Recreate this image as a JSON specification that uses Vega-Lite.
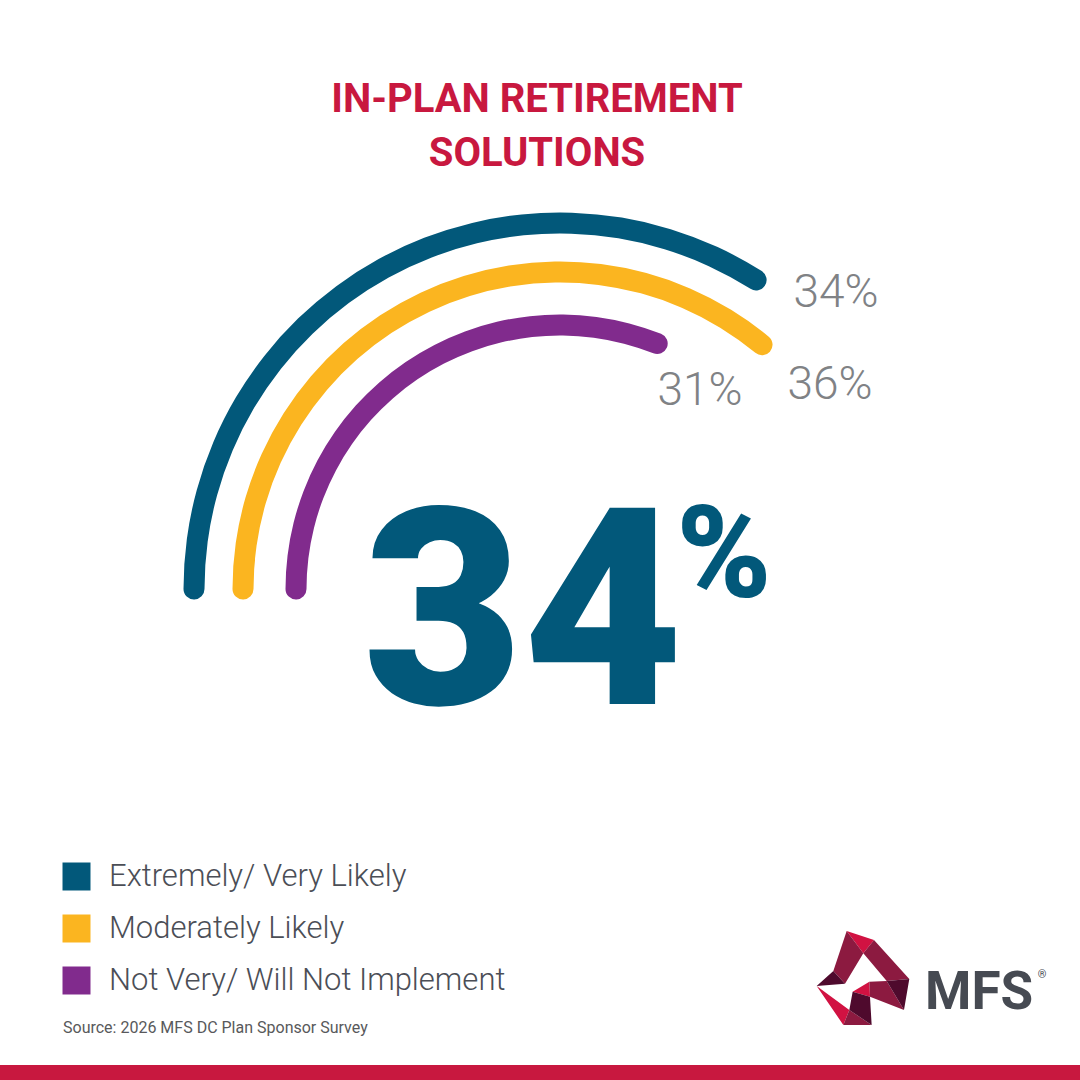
{
  "$schema": "https://vega.github.io/schema/vega-lite/v6.json",
  "width": 1080,
  "height": 1080,
  "padding": 0,
  "autosize": {"type": "none"},
  "background": "white",
  "config": {"view": {"stroke": null}, "font": "Roboto"},
  "datasets": {
    "survey": [
      {"category": "Extremely/ Very Likely", "value": 0.34},
      {"category": "Moderately Likely", "value": 0.36},
      {"category": "Not Very/ Will Not Implement", "value": 0.31}
    ]
  },
  "data": {"name": "survey"},
  "layer": [
    {
      "encoding": {
        "theta": {"field": "value", "type": "quantitative", "stack": null, "scale": {"domain": [0, 1], "range": [-1.5708, 4.7124]}},
        "theta2": {"datum": 0},
        "color": {
          "field": "category", "type": "nominal",
          "scale": {"domain": ["Extremely/ Very Likely", "Moderately Likely", "Not Very/ Will Not Implement"], "range": ["#02587A", "#FBB520", "#812B8D"]},
          "legend": {
            "title": null, "orient": "none", "legendX": 61, "legendY": 861,
            "symbolType": "square", "symbolSize": 784, "symbolStrokeWidth": 0, "symbolOpacity": 1,
            "labelFont": "Roboto", "labelFontSize": 31, "labelFontWeight": 300, "labelColor": "#4B4E56",
            "labelOffset": 17, "rowPadding": 20, "padding": 0, "labelLimit": 700
          }
        }
      },
      "layer": [
        {
          "transform": [{"filter": "datum.category === 'Extremely/ Very Likely'"}],
          "mark": {"type": "arc", "radius": 376.5, "radius2": 355.5, "cornerRadius": 10.5, "thetaOffset": 0.0287, "theta2Offset": -0.0287, "xOffset": 20, "yOffset": 49}
        },
        {
          "transform": [{"filter": "datum.category === 'Moderately Likely'"}],
          "mark": {"type": "arc", "radius": 327.5, "radius2": 306.5, "cornerRadius": 10.5, "thetaOffset": 0.0331, "theta2Offset": -0.0331, "xOffset": 20, "yOffset": 49}
        },
        {
          "transform": [{"filter": "datum.category === 'Not Very/ Will Not Implement'"}],
          "mark": {"type": "arc", "radius": 274.5, "radius2": 253.5, "cornerRadius": 10.5, "thetaOffset": 0.0398, "theta2Offset": -0.0398, "xOffset": 20, "yOffset": 49}
        }
      ]
    },
    {
      "transform": [{"filter": "datum.category === 'Extremely/ Very Likely'"}],
      "mark": {"type": "text", "dx": 296, "dy": -233, "align": "center", "baseline": "alphabetic", "font": "Roboto", "fontWeight": 300, "fontSize": 46, "color": "#808285"},
      "encoding": {"text": {"field": "value", "type": "quantitative", "format": ".0%"}}
    },
    {
      "transform": [{"filter": "datum.category === 'Moderately Likely'"}],
      "mark": {"type": "text", "dx": 290, "dy": -141, "align": "center", "baseline": "alphabetic", "font": "Roboto", "fontWeight": 300, "fontSize": 46, "color": "#808285"},
      "encoding": {"text": {"field": "value", "type": "quantitative", "format": ".0%"}}
    },
    {
      "transform": [{"filter": "datum.category === 'Not Very/ Will Not Implement'"}],
      "mark": {"type": "text", "dx": 160, "dy": -135, "align": "center", "baseline": "alphabetic", "font": "Roboto", "fontWeight": 300, "fontSize": 46, "color": "#808285"},
      "encoding": {"text": {"field": "value", "type": "quantitative", "format": ".0%"}}
    },
    {
      "data": {"values": [{}]},
      "mark": {"type": "text", "text": "34", "dx": -17, "dy": 164, "align": "center", "baseline": "alphabetic", "font": "Roboto", "fontWeight": 900, "fontSize": 276, "color": "#02587A"},
      "encoding": {}
    },
    {
      "data": {"values": [{}]},
      "mark": {"type": "text", "text": "%", "dx": 184, "dy": 57, "align": "center", "baseline": "alphabetic", "font": "Roboto", "fontWeight": 900, "fontSize": 128, "color": "#02587A"},
      "encoding": {}
    },
    {
      "data": {"values": [{}]},
      "mark": {"type": "text", "text": ["IN-PLAN RETIREMENT", "SOLUTIONS"], "lineHeight": 54, "dx": -3, "dy": -428, "align": "center", "baseline": "alphabetic", "font": "Roboto", "fontWeight": 700, "fontSize": 40, "color": "#C8183F"},
      "encoding": {}
    },
    {
      "data": {"values": [{}]},
      "mark": {"type": "text", "text": "Source: 2026 MFS DC Plan Sponsor Survey", "dx": -477, "dy": 493, "align": "left", "baseline": "alphabetic", "font": "Roboto", "fontWeight": 400, "fontSize": 16, "color": "#58595B"},
      "encoding": {}
    },
    {
      "data": {"values": [{}]},
      "mark": {"type": "text", "text": "MFS", "dx": 385, "dy": 469, "align": "left", "baseline": "alphabetic", "font": "Roboto", "fontWeight": 700, "fontSize": 53, "color": "#464A52"},
      "encoding": {}
    },
    {
      "data": {"values": [{}]},
      "mark": {"type": "text", "text": "®", "dx": 502, "dy": 438, "align": "center", "baseline": "alphabetic", "font": "Roboto", "fontWeight": 400, "fontSize": 11, "color": "#464A52"},
      "encoding": {}
    },
    {
      "data": {"values": [{}]},
      "mark": {"type": "point", "filled": true, "opacity": 1, "strokeWidth": 0, "size": 8836, "xOffset": 323, "yOffset": 438, "color": "#D11242",
        "shape": "M-0.347,-1L0.234,-0.809L0.007,-0.525Z M-0.220,0.291L0.135,0.078L0.149,0.397Z M-0.986,0.170L-0.291,0.681L-0.418,1Z"},
      "encoding": {}
    },
    {
      "data": {"values": [{}]},
      "mark": {"type": "point", "filled": true, "opacity": 1, "strokeWidth": 0, "size": 8836, "xOffset": 323, "yOffset": 438, "color": "#8C1A40",
        "shape": "M-0.347,-1L0.007,-0.525L-0.383,0.121L-0.631,-0.149Z M0.234,-0.809L0.985,0.021L0.504,0.064L0.007,-0.525Z M0.135,0.078L0.504,0.064L0.872,0.681L0.149,0.397Z M-0.291,0.681L0.184,1L-0.418,1Z"},
      "encoding": {}
    },
    {
      "data": {"values": [{}]},
      "mark": {"type": "point", "filled": true, "opacity": 1, "strokeWidth": 0, "size": 8836, "xOffset": 323, "yOffset": 438, "color": "#4F0A2D",
        "shape": "M-0.986,0.170L-0.631,-0.149L-0.383,0.121Z M0.504,0.064L0.985,0.021L0.872,0.681Z M-0.220,0.291L0.149,0.397L0.184,1L-0.291,0.681Z"},
      "encoding": {}
    },
    {
      "data": {"values": [{}]},
      "mark": {"type": "rule", "color": "#C8183F", "strokeWidth": 15, "yOffset": -7.5},
      "encoding": {"y": {"value": "height"}}
    }
  ]
}
